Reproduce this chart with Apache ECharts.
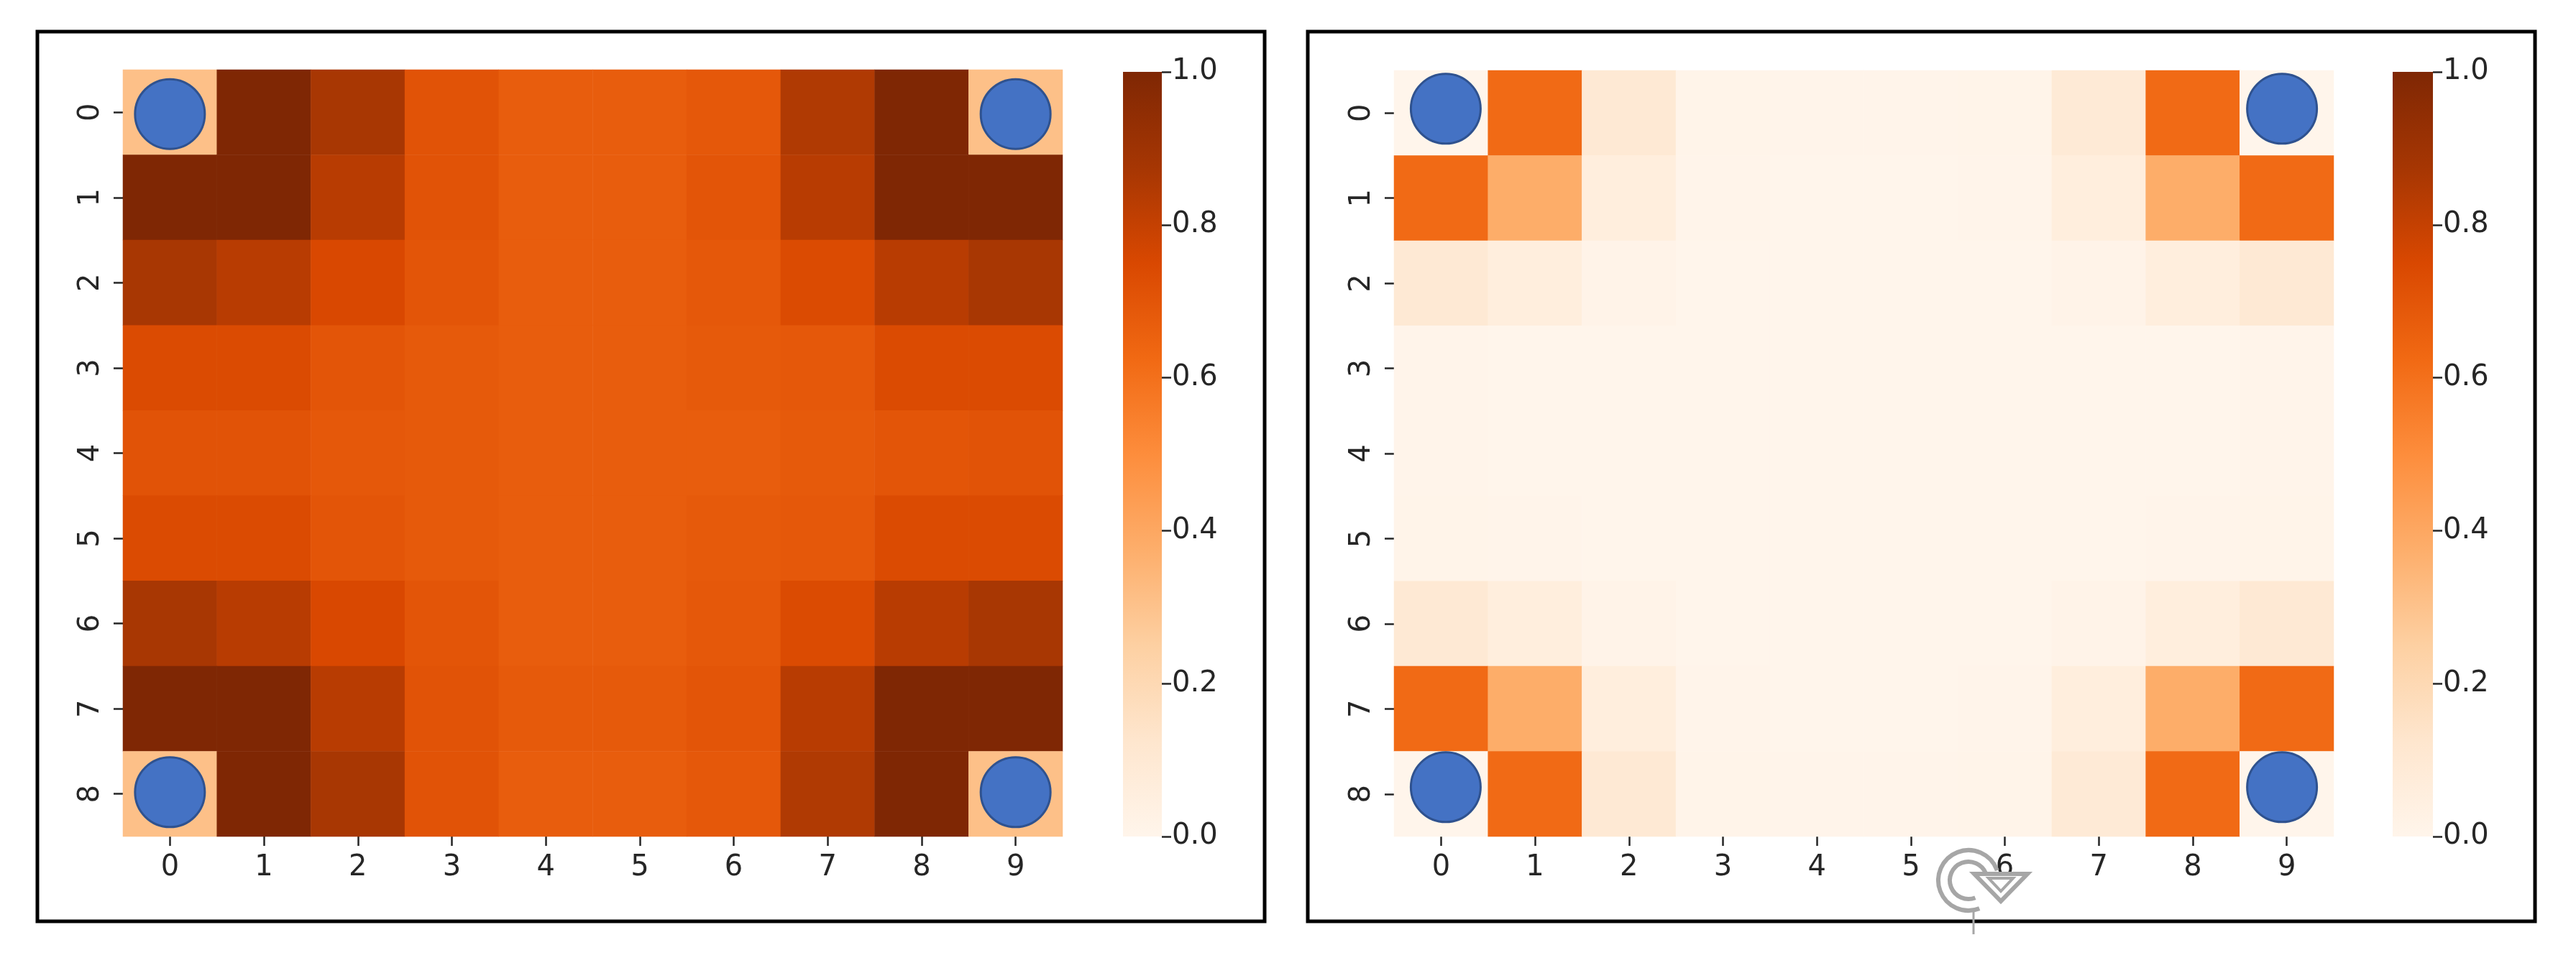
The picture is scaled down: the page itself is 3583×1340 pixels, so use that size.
<!DOCTYPE html>
<html><head><meta charset="utf-8">
<style>html,body{margin:0;padding:0;background:#fff}#c{width:3583px;height:1340px}</style>
<script src="https://cdn.jsdelivr.net/npm/echarts@6/dist/echarts.min.js"></script></head>
<body><div id="c"></div>
<script>
const xCats=['0','1','2','3','4','5','6','7','8','9'];
const yCats=['0','1','2','3','4','5','6','7','8'];
const ramp=['#fff5eb','#fee6ce','#fdd0a2','#fdae6b','#fd8d3c','#f16913','#d94801','#a63603','#7f2704'];
const leftValues=[
[.31,1,.87,.71,.67,.67,.69,.85,1,.31],
[1,1,.83,.71,.67,.67,.70,.83,1,1],
[.87,.83,.75,.70,.67,.67,.69,.74,.83,.87],
[.74,.74,.70,.68,.67,.67,.68,.69,.74,.74],
[.71,.71,.69,.68,.67,.67,.67,.68,.70,.71],
[.74,.74,.70,.68,.67,.67,.68,.69,.74,.74],
[.87,.83,.75,.70,.67,.67,.69,.74,.83,.87],
[1,1,.83,.71,.68,.68,.70,.83,1,1],
[.31,1,.87,.71,.67,.67,.69,.85,1,.31]];
const rightValues=[
[0,.62,.10,.01,.005,.005,.01,.09,.62,0],
[.62,.38,.06,.005,0,0,.005,.06,.38,.62],
[.10,.06,.015,0,0,0,0,.015,.06,.10],
[.005,0,0,0,0,0,0,0,0,.005],
[.005,0,0,0,0,0,0,0,0,.005],
[.01,.005,0,0,0,0,0,0,.005,.01],
[.10,.06,.015,0,0,0,0,.015,.06,.10],
[.62,.38,.06,.005,0,0,.005,.06,.38,.62],
[0,.62,.10,.01,.005,.005,.01,.09,.62,0]];
const leftCircles=[[0,0.02],[9,0.02],[0,7.98],[9,7.98]];
const rightCircles=[[0.05,-0.05],[8.95,-0.05],[0.05,7.92],[8.95,7.92]];
const barTicks=[0,.2,.4,.6,.8,1];

const font='"DejaVu Sans"', ink='#262626', fs=40;
const panels=[
 {heat:{left:171,top:97,width:1307,height:1067},bar:{left:1562,top:100,width:54,height:1064},vals:leftValues,circ:leftCircles},
 {heat:{left:1939,top:98,width:1307,height:1066},bar:{left:3328,top:100,width:56,height:1064},vals:rightValues,circ:rightCircles}
];
const tick={show:true,length:13,lineStyle:{color:ink,width:2.5}};
const grid=[],xAxis=[],yAxis=[],series=[],visualMap=[];
panels.forEach((p,i)=>{
  const g=grid.length;
  grid.push({...p.heat,containLabel:false},{...p.bar,containLabel:false},{...p.heat,containLabel:false});
  const base={axisLine:{show:false},splitLine:{show:false},splitArea:{show:false}};
  xAxis.push({...base,gridIndex:g,type:'category',data:xCats,position:'bottom',axisTick:{...tick,alignWithLabel:true},
    axisLabel:{color:ink,fontFamily:font,fontSize:fs,margin:24,interval:0}});
  yAxis.push({...base,gridIndex:g,type:'category',data:yCats,inverse:true,position:'left',axisTick:{...tick,alignWithLabel:true},
    axisLabel:{color:ink,fontFamily:font,fontSize:fs,margin:24,rotate:90,interval:0}});
  xAxis.push({...base,gridIndex:g+1,type:'category',data:[''],axisTick:{show:false},axisLabel:{show:false}});
  yAxis.push({...base,gridIndex:g+1,type:'value',min:0,max:1,interval:.2,position:'right',axisTick:tick,
    axisLabel:{color:ink,fontFamily:font,fontSize:fs,margin:14,formatter:v=>v.toFixed(1)}});
  xAxis.push({gridIndex:g+2,type:'value',min:-.5,max:9.5,show:false});
  yAxis.push({gridIndex:g+2,type:'value',min:-.5,max:8.5,inverse:true,show:false});
  const data=[];
  p.vals.forEach((r,y)=>r.forEach((v,x)=>data.push([x,y,v])));
  visualMap.push({show:false,min:0,max:1,seriesIndex:series.length,inRange:{color:ramp}});
  series.push({type:'heatmap',xAxisIndex:g,yAxisIndex:g,data,itemStyle:{borderWidth:0},emphasis:{disabled:true},progressive:0,animation:false});
  series.push({type:'bar',xAxisIndex:g+1,yAxisIndex:g+1,data:[1],barWidth:'100%',animation:false,silent:true,
    itemStyle:{color:new echarts.graphic.LinearGradient(0,1,0,0,ramp.map((c,k)=>({offset:k/(ramp.length-1),color:c})))}});
  series.push({type:'scatter',xAxisIndex:g+2,yAxisIndex:g+2,data:p.circ,symbol:'circle',symbolSize:97,z:5,animation:false,silent:true,
    itemStyle:{color:'#4472c4',borderColor:'#2f528f',borderWidth:3,opacity:1}});
});
const gray='#a6a6a6';
const graphic=[
 {type:'rect',shape:{x:52,y:44,width:1707,height:1238},style:{fill:'none',stroke:'#000',lineWidth:5},z:10},
 {type:'rect',shape:{x:1819,y:44,width:1707,height:1238},style:{fill:'none',stroke:'#000',lineWidth:5},z:10},
 {type:'arc',shape:{cx:2738,cy:1225,r:42,startAngle:1.2,endAngle:5.95,clockwise:true},style:{fill:'none',stroke:gray,lineWidth:6},z:11},
 {type:'arc',shape:{cx:2738,cy:1225,r:26,startAngle:1.2,endAngle:5.95,clockwise:true},style:{fill:'none',stroke:gray,lineWidth:6},z:11},
 {type:'polygon',shape:{points:[[2746,1216],[2820,1216],[2783,1254]]},style:{fill:'#fff',stroke:gray,lineWidth:6},z:11},
 {type:'polygon',shape:{points:[[2766,1222],[2800,1222],[2783,1240]]},style:{fill:'none',stroke:gray,lineWidth:4},z:11},
 {type:'line',shape:{x1:2745,y1:1268,x2:2745,y2:1300},style:{stroke:gray,lineWidth:3},z:11}
];
const chart=echarts.init(document.getElementById('c'),null,{renderer:'canvas'});
chart.setOption({animation:false,backgroundColor:'#fff',grid,xAxis,yAxis,visualMap,series,graphic});
</script></body></html>
